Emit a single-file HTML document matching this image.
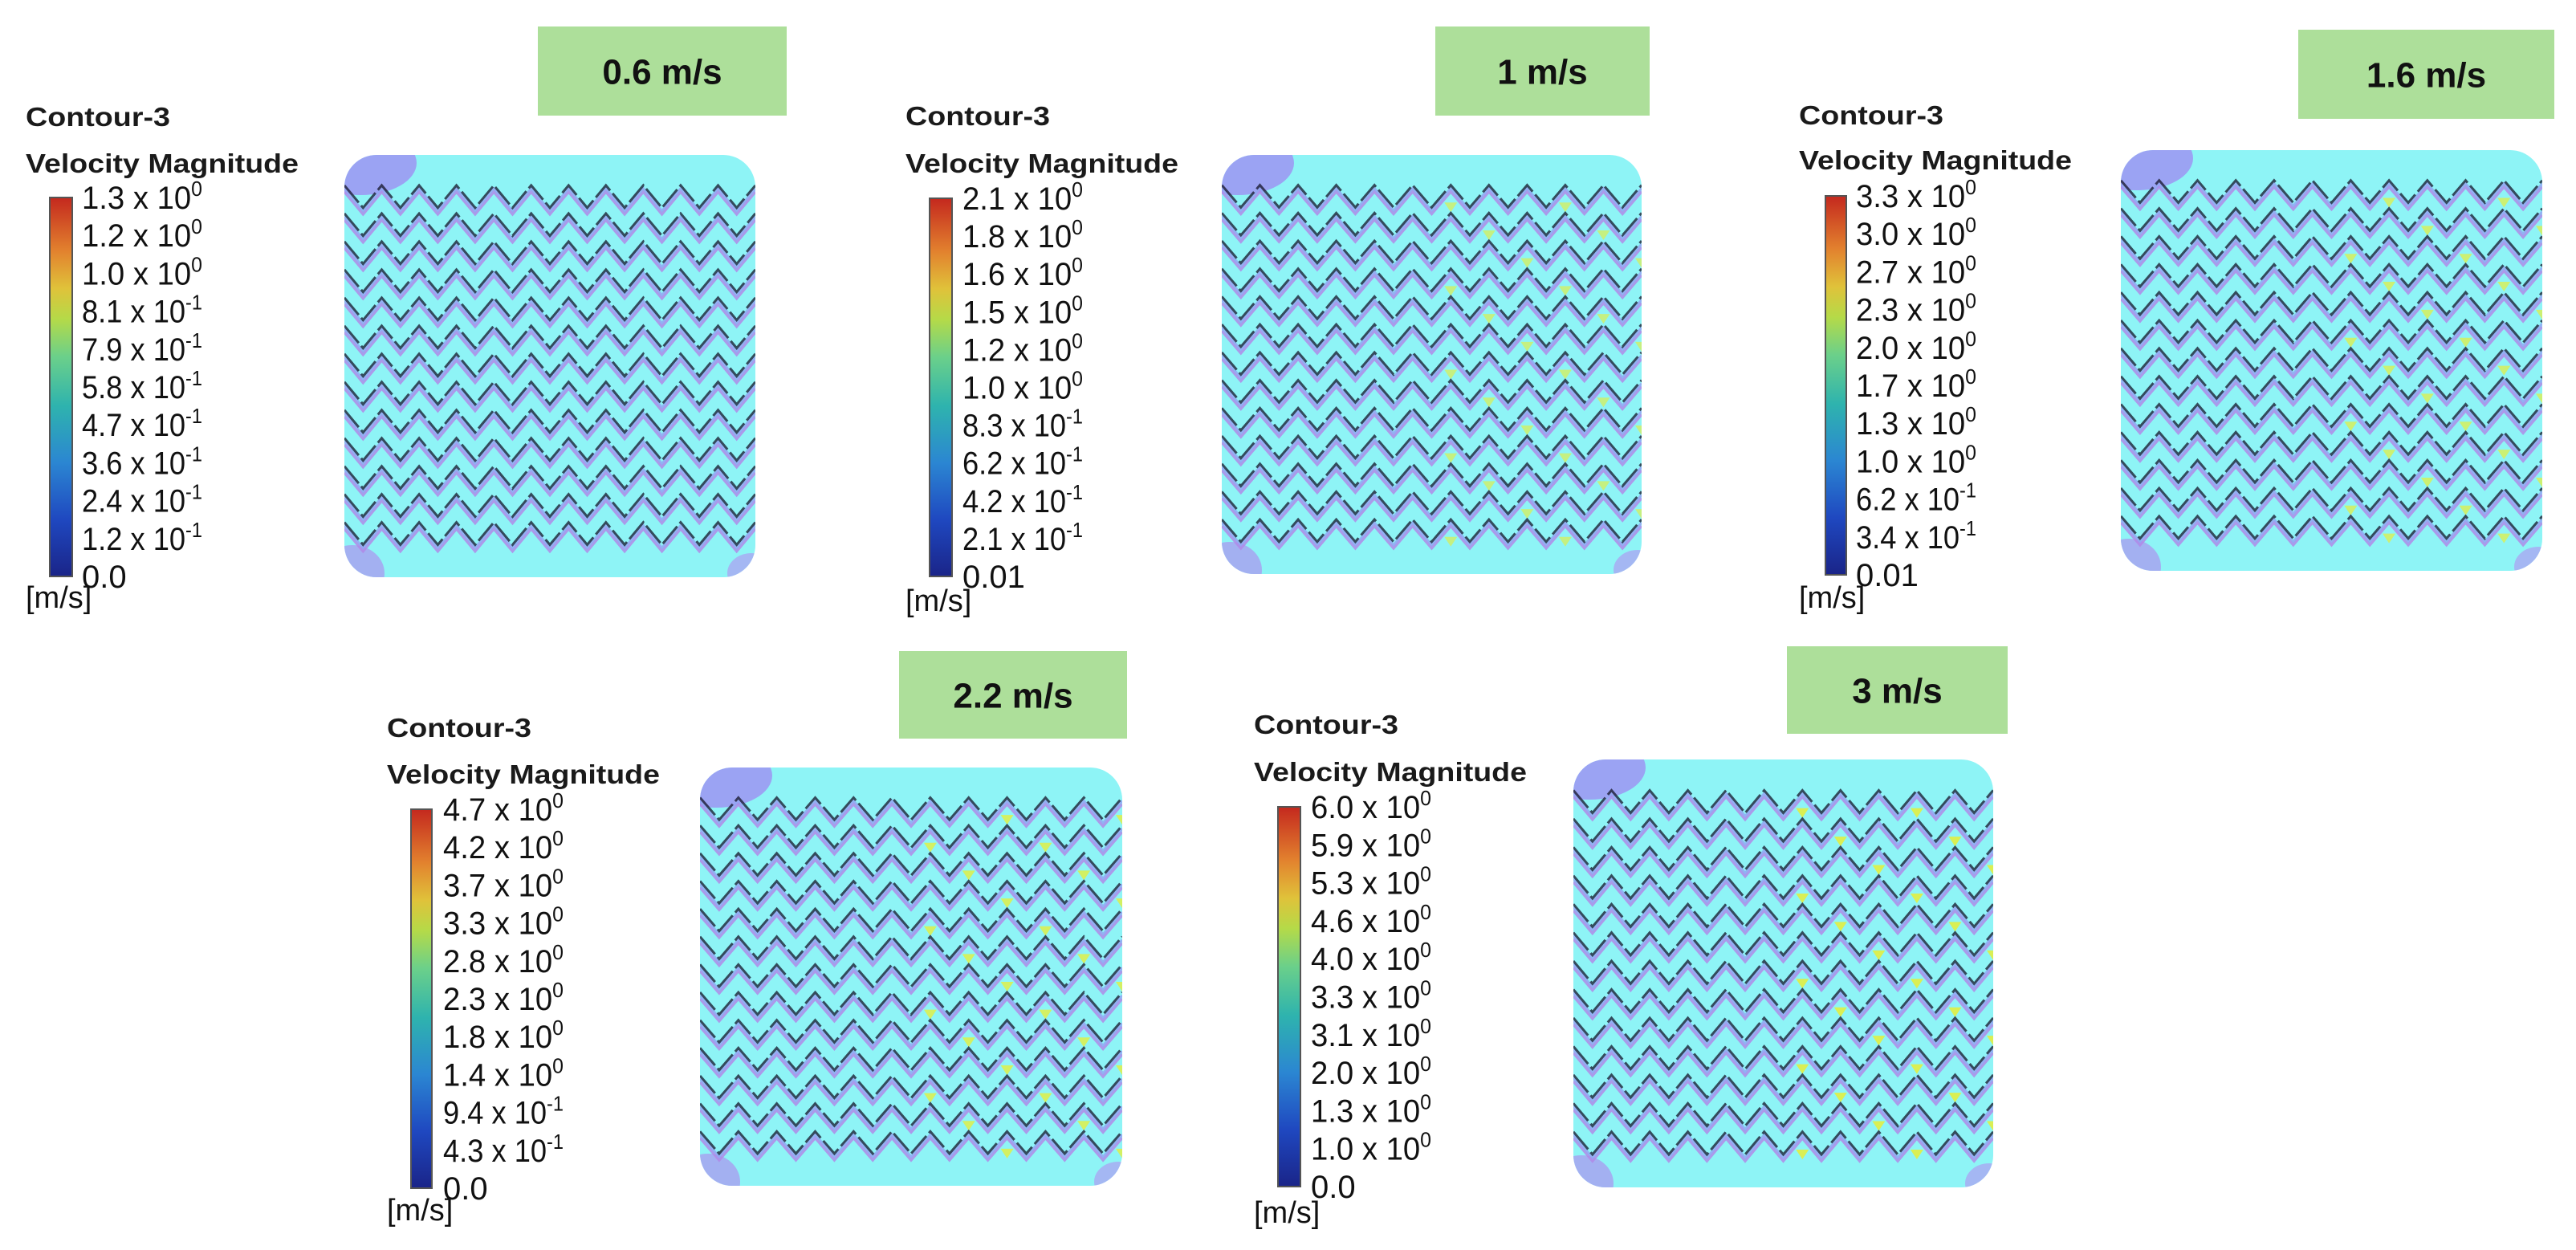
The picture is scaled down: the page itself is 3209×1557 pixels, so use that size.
<!DOCTYPE html>
<html><head><meta charset="utf-8"><style>
html,body{margin:0;padding:0;background:#fff;}
svg{display:block;font-family:"Liberation Sans","DejaVu Sans",sans-serif;}
</style></head><body>
<svg id="fig" width="3209" height="1557" viewBox="0 0 3209 1557" xmlns="http://www.w3.org/2000/svg">
<defs>
<linearGradient id="jet" x1="0" y1="1" x2="0" y2="0">
<stop offset="0" stop-color="#1a2488"/>
<stop offset="0.15" stop-color="#1f48c0"/>
<stop offset="0.3" stop-color="#2b86d2"/>
<stop offset="0.45" stop-color="#2eb3ae"/>
<stop offset="0.58" stop-color="#6bd08a"/>
<stop offset="0.68" stop-color="#b5da48"/>
<stop offset="0.76" stop-color="#e0c23a"/>
<stop offset="0.86" stop-color="#e2812e"/>
<stop offset="1" stop-color="#c4281e"/>
</linearGradient>
</defs>
</svg>
<script>
// ---- data: colourbar tick labels per case (mantissa, exponent) ----
const caseLabels = ["0.6 m/s","1 m/s","1.6 m/s","2.2 m/s","3 m/s"];
const ticks1 = [["1.3","0"],["1.2","0"],["1.0","0"],["8.1","-1"],["7.9","-1"],["5.8","-1"],["4.7","-1"],["3.6","-1"],["2.4","-1"],["1.2","-1"],["0.0",""]];
const ticks2 = [["2.1","0"],["1.8","0"],["1.6","0"],["1.5","0"],["1.2","0"],["1.0","0"],["8.3","-1"],["6.2","-1"],["4.2","-1"],["2.1","-1"],["0.01",""]];
const ticks3 = [["3.3","0"],["3.0","0"],["2.7","0"],["2.3","0"],["2.0","0"],["1.7","0"],["1.3","0"],["1.0","0"],["6.2","-1"],["3.4","-1"],["0.01",""]];
const ticks4 = [["4.7","0"],["4.2","0"],["3.7","0"],["3.3","0"],["2.8","0"],["2.3","0"],["1.8","0"],["1.4","0"],["9.4","-1"],["4.3","-1"],["0.0",""]];
const ticks5 = [["6.0","0"],["5.9","0"],["5.3","0"],["4.6","0"],["4.0","0"],["3.3","0"],["3.1","0"],["2.0","0"],["1.3","0"],["1.0","0"],["0.0",""]];
const allTicks = [ticks1,ticks2,ticks3,ticks4,ticks5];
const zigRows = 13;
const zigPeriods = 11;

// ---- layout ----
const layout = [
 {tx:32, ty:157, vy:215, cb:[62,246,28,472], lx:102, uy:757, plot:[429,193,512,526], box:[670,33,310,111]},
 {tx:1128,ty:156, vy:215, cb:[1158,247,28,471], lx:1199, uy:761, plot:[1522,193,523,522], box:[1788,33,267,111]},
 {tx:2241,ty:155, vy:211, cb:[2274,244,26,472], lx:2312, uy:757, plot:[2642,187,525,524], box:[2863,37,319,111]},
 {tx:482, ty:918, vy:976, cb:[512,1008,26,472], lx:552, uy:1520, plot:[872,956,526,521], box:[1120,811,284,109]},
 {tx:1562,ty:914, vy:973, cb:[1592,1005,28,473], lx:1633, uy:1523, plot:[1960,946,523,533], box:[2226,805,275,109]}
];
const NS="http://www.w3.org/2000/svg";
const svg=document.getElementById('fig');
function mk(tag,attrs,parent){const e=document.createElementNS(NS,tag);for(const k in attrs)e.setAttribute(k,attrs[k]);(parent||svg).appendChild(e);return e;}

layout.forEach((L,i)=>{
 const g=mk('g',{});
 
 
 const b=mk('rect',{x:L.box[0],y:L.box[1],width:L.box[2],height:L.box[3],fill:'#addf9a'},g);
 
 
 const bt=mk('text',{x:L.box[0]+L.box[2]/2,y:L.box[1]+L.box[3]/2+16,'text-anchor':'middle','font-size':44,'font-weight':'bold',fill:'#111'},g);
 bt.textContent=caseLabels[i];
 
 
 const t1=mk('text',{x:L.tx,y:L.ty,'font-size':33,'font-weight':'bold',fill:'#1a1a1a',textLength:180,lengthAdjust:'spacingAndGlyphs'},g);
 t1.textContent='Contour-3';
 
 
 const t2=mk('text',{x:L.tx,y:L.vy,'font-size':33,'font-weight':'bold',fill:'#1a1a1a',textLength:340,lengthAdjust:'spacingAndGlyphs'},g);
 t2.textContent='Velocity Magnitude';
 
 
 const [cx,cy,cw,ch]=L.cb;
 const cbar=mk('rect',{x:cx,y:cy,width:cw,height:ch,fill:'url(#jet)',stroke:'#555','stroke-width':2},g);
 
 
 const ticks=allTicks[i];
 const step=ch/(ticks.length-1);
 ticks.forEach((tk,j)=>{
  const y=cy+j*step+14;
  const t=mk('text',{x:L.lx,y:y,'font-size':40,fill:'#111'},g);
  
  
  if(tk[1]===''){t.textContent=tk[0];}
  else{
   const s1=mk('tspan',{},t);s1.textContent=tk[0]+' x 10';
   const s2=mk('tspan',{dy:-16,'font-size':26},t);s2.textContent=tk[1];
   t.setAttribute('textLength',150);
   t.setAttribute('lengthAdjust','spacingAndGlyphs');
  }
 });
 const u=mk('text',{x:L.tx,y:L.uy,'font-size':38,fill:'#111'},g);
 u.textContent='[m/s]';
 
 
 const [px,py,pw,ph]=L.plot;
 const cid='clip'+i;
 const cp=mk('clipPath',{id:cid},svg.querySelector('defs'));
 mk('rect',{x:px,y:py,width:pw,height:ph,rx:40,ry:40},cp);
 const pg=mk('g',{'clip-path':'url(#'+cid+')'},g);
 
 
 mk('rect',{x:px,y:py,width:pw,height:ph,fill:'#8ef4f6'},pg);
 mk('ellipse',{cx:px+20,cy:py+10,rx:70,ry:40,fill:'#9d94f2','fill-opacity':0.85},pg);
 mk('ellipse',{cx:px+10,cy:py+ph-5,rx:40,ry:35,fill:'#a99ff0','fill-opacity':0.8},pg);
 mk('ellipse',{cx:px+pw-5,cy:py+ph-5,rx:30,ry:25,fill:'#aaa8f2','fill-opacity':0.8},pg);
 const half=pw/(zigPeriods*2);
 const amp=ph*0.053, top0=py+ph*0.072, sp=ph*0.0665;
 for(let r=0;r<zigRows;r++){
  const y0=top0+r*sp;
  let pts=[];
  for(let k=0;k<=zigPeriods*2;k++){pts.push([px+k*half, k%2?y0+amp:y0]);}
  const str=(dy)=>pts.map(p=>p[0].toFixed(1)+','+(p[1]+dy).toFixed(1)).join(' ');
  mk('polyline',{points:str(8),fill:'none',stroke:'#b08ae8','stroke-width':3.5,'stroke-opacity':0.85},pg);
  mk('polyline',{points:str(4),fill:'none',stroke:'#93a6f2','stroke-width':3,'stroke-opacity':0.85},pg);
  const z=mk('polyline',{points:str(0),fill:'none',stroke:'#141428','stroke-width':3,'stroke-opacity':0.75,'stroke-dasharray':(half*1.2).toFixed(1)+' '+(half*0.2).toFixed(1)},pg);
  
  
  if(i>0){
   for(let k=zigPeriods;k<zigPeriods*2;k+=2){
    if((r+k+i)%3===0){
     const x=px+(k+1)*half;
     mk('path',{d:`M${x-8},${y0+amp-6} L${x+8},${y0+amp-6} L${x},${y0+amp+6}Z`,fill:'#e6ee3c','fill-opacity':0.55+0.08*i},pg);
    }
   }
  }
 }
});
</script>
</body></html>
